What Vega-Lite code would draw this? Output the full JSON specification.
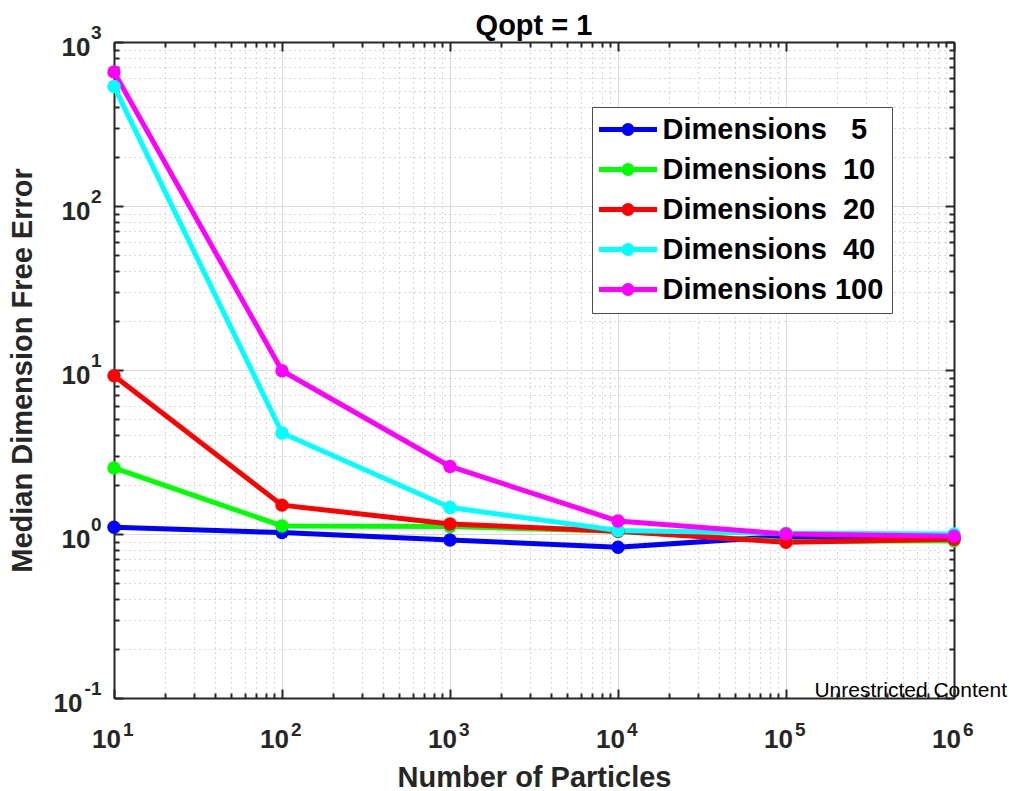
{
  "$schema": "https://vega.github.io/schema/vega-lite/v6.json",
  "width": 840,
  "height": 656,
  "autosize": {"type": "none"},
  "padding": {"left": 114, "top": 42, "right": 55, "bottom": 93},
  "background": "white",
  "config": {"font": "Liberation Sans", "view": {"stroke": null}},
  "title": {"text": "Qopt = 1", "font": "Liberation Sans", "fontSize": 29, "fontWeight": "bold", "color": "#000000", "offset": -18},
  "datasets": {
    "errors": [
      {"particles": 10, "err": 1.10, "series": "Dimensions\u00a0\u00a0\u00a05"},
      {"particles": 100, "err": 1.02, "series": "Dimensions\u00a0\u00a0\u00a05"},
      {"particles": 1000, "err": 0.92, "series": "Dimensions\u00a0\u00a0\u00a05"},
      {"particles": 10000, "err": 0.83, "series": "Dimensions\u00a0\u00a0\u00a05"},
      {"particles": 100000, "err": 0.97, "series": "Dimensions\u00a0\u00a0\u00a05"},
      {"particles": 1000000, "err": 0.95, "series": "Dimensions\u00a0\u00a0\u00a05"},
      {"particles": 10, "err": 2.53, "series": "Dimensions\u00a0\u00a010"},
      {"particles": 100, "err": 1.12, "series": "Dimensions\u00a0\u00a010"},
      {"particles": 1000, "err": 1.11, "series": "Dimensions\u00a0\u00a010"},
      {"particles": 10000, "err": 1.04, "series": "Dimensions\u00a0\u00a010"},
      {"particles": 100000, "err": 0.90, "series": "Dimensions\u00a0\u00a010"},
      {"particles": 1000000, "err": 0.91, "series": "Dimensions\u00a0\u00a010"},
      {"particles": 10, "err": 9.23, "series": "Dimensions\u00a0\u00a020"},
      {"particles": 100, "err": 1.50, "series": "Dimensions\u00a0\u00a020"},
      {"particles": 1000, "err": 1.15, "series": "Dimensions\u00a0\u00a020"},
      {"particles": 10000, "err": 1.04, "series": "Dimensions\u00a0\u00a020"},
      {"particles": 100000, "err": 0.89, "series": "Dimensions\u00a0\u00a020"},
      {"particles": 1000000, "err": 0.93, "series": "Dimensions\u00a0\u00a020"},
      {"particles": 10, "err": 536, "series": "Dimensions\u00a0\u00a040"},
      {"particles": 100, "err": 4.13, "series": "Dimensions\u00a0\u00a040"},
      {"particles": 1000, "err": 1.45, "series": "Dimensions\u00a0\u00a040"},
      {"particles": 10000, "err": 1.05, "series": "Dimensions\u00a0\u00a040"},
      {"particles": 100000, "err": 1.01, "series": "Dimensions\u00a0\u00a040"},
      {"particles": 1000000, "err": 1.00, "series": "Dimensions\u00a0\u00a040"},
      {"particles": 10, "err": 656, "series": "Dimensions\u00a0100"},
      {"particles": 100, "err": 9.9, "series": "Dimensions\u00a0100"},
      {"particles": 1000, "err": 2.58, "series": "Dimensions\u00a0100"},
      {"particles": 10000, "err": 1.20, "series": "Dimensions\u00a0100"},
      {"particles": 100000, "err": 1.00, "series": "Dimensions\u00a0100"},
      {"particles": 1000000, "err": 0.97, "series": "Dimensions\u00a0100"}
    ],
    "footnote": [
      {"particles": 1000000, "err": 0.1, "note": "Unrestricted Content"}
    ]
  },
  "resolve": {"scale": {"x": "independent", "y": "independent"}, "axis": {"x": "independent", "y": "independent"}},
  "layer": [
    {
      "encoding": {
        "x": {
          "field": "particles",
          "type": "quantitative",
          "scale": {"type": "log", "domain": [10, 1000000], "nice": false, "zero": false},
          "axis": {
            "orient": "bottom",
            "values": [10, 20, 30, 40, 50, 60, 70, 80, 90, 100, 200, 300, 400, 500, 600, 700, 800, 900, 1000, 2000, 3000, 4000, 5000, 6000, 7000, 8000, 9000, 10000, 20000, 30000, 40000, 50000, 60000, 70000, 80000, 90000, 100000, 200000, 300000, 400000, 500000, 600000, 700000, 800000, 900000, 1000000],
            "labelExpr": "abs(log(datum.value)/LN10 - round(log(datum.value)/LN10)) < 0.01 ? '10' : ''",
            "labelFont": "Liberation Sans",
            "labelFontSize": 26,
            "labelFontWeight": "bold",
            "labelColor": "#262626",
            "labelBaseline": "top",
            "labelPadding": 37,
            "labelOffset": -8,
            "labelFlush": false,
            "labelOverlap": false,
            "labelBound": false,
            "tickSize": {"condition": {"test": "abs(log(datum.value)/LN10 - round(log(datum.value)/LN10)) < 0.01", "value": -9}, "value": -5},
            "tickColor": "#262626",
            "tickWidth": 2,
            "domainColor": "#262626",
            "domainWidth": 2,
            "grid": true,
            "gridColor": {"condition": {"test": "abs(log(datum.value)/LN10 - round(log(datum.value)/LN10)) < 0.01", "value": "#dadada"}, "value": "#b0b0b0"},
            "gridDash": {"condition": {"test": "abs(log(datum.value)/LN10 - round(log(datum.value)/LN10)) < 0.01", "value": []}, "value": [1, 4]},
            "gridWidth": 1,
            "title": "Number of Particles",
            "titleFont": "Liberation Sans",
            "titleFontSize": 29,
            "titleFontWeight": "bold",
            "titleColor": "#262626",
            "titlePadding": 7
          }
        },
        "y": {
          "field": "err",
          "type": "quantitative",
          "scale": {"type": "log", "domain": [0.1, 1000], "nice": false, "zero": false},
          "axis": {
            "orient": "left",
            "values": [0.1, 0.2, 0.3, 0.4, 0.5, 0.6, 0.7, 0.8, 0.9, 1, 2, 3, 4, 5, 6, 7, 8, 9, 10, 20, 30, 40, 50, 60, 70, 80, 90, 100, 200, 300, 400, 500, 600, 700, 800, 900, 1000],
            "labelExpr": "abs(log(datum.value)/LN10 - round(log(datum.value)/LN10)) < 0.01 ? '10' : ''",
            "labelFont": "Liberation Sans",
            "labelFontSize": 26,
            "labelFontWeight": "bold",
            "labelColor": "#262626",
            "labelPadding": {"condition": {"test": "datum.value < 0.5", "value": 41}, "value": 33},
            "labelOffset": 5,
            "labelFlush": false,
            "labelOverlap": false,
            "labelBound": false,
            "tickSize": {"condition": {"test": "abs(log(datum.value)/LN10 - round(log(datum.value)/LN10)) < 0.01", "value": -9}, "value": -5},
            "tickColor": "#262626",
            "tickWidth": 2,
            "domainColor": "#262626",
            "domainWidth": 2,
            "grid": true,
            "gridColor": {"condition": {"test": "abs(log(datum.value)/LN10 - round(log(datum.value)/LN10)) < 0.01", "value": "#dadada"}, "value": "#b0b0b0"},
            "gridDash": {"condition": {"test": "abs(log(datum.value)/LN10 - round(log(datum.value)/LN10)) < 0.01", "value": []}, "value": [1, 4]},
            "gridWidth": 1,
            "title": "Median Dimension Free Error",
            "titleFont": "Liberation Sans",
            "titleFontSize": 29,
            "titleFontWeight": "bold",
            "titleColor": "#262626",
            "titlePadding": 16
          }
        }
      },
      "layer": [
        {
          "data": {"name": "errors"},
          "mark": {"type": "line", "strokeWidth": 5, "strokeJoin": "round"},
          "encoding": {
            "color": {
              "field": "series",
              "type": "nominal",
              "scale": {
                "domain": ["Dimensions\u00a0\u00a0\u00a05", "Dimensions\u00a0\u00a010", "Dimensions\u00a0\u00a020", "Dimensions\u00a0\u00a040", "Dimensions\u00a0100"],
                "range": ["#0000ff", "#00ff00", "#ff0000", "#00ffff", "#ff00ff"]
              },
              "legend": {
                "title": null,
                "orient": "none",
                "legendX": 478,
                "legendY": 65,
                "symbolType": "M-3.867,0L3.867,0M0.533,0A0.533,0.533,0,1,1,-0.533,0A0.533,0.533,0,1,1,0.533,0Z",
                "symbolSize": 225,
                "symbolStrokeWidth": 5,
                "symbolOffset": 13.5,
                "labelFont": "Liberation Sans",
                "labelFontSize": 29,
                "labelFontWeight": "bold",
                "labelColor": "#000000",
                "labelOffset": 20,
                "labelLimit": 400,
                "rowPadding": 10,
                "padding": 8,
                "strokeColor": "#4d4d4d",
                "fillColor": "#ffffff",
                "cornerRadius": 0,
                "encode": {
                  "symbols": {
                    "update": {
                      "fill": {"scale": "color", "field": "value"},
                      "stroke": {"scale": "color", "field": "value"},
                      "fillOpacity": {"value": 1},
                      "strokeOpacity": {"value": 1},
                      "opacity": {"value": 1}
                    }
                  }
                }
              }
            },
            "order": {"field": "particles", "type": "quantitative"}
          }
        },
        {
          "data": {"name": "errors"},
          "mark": {"type": "point", "filled": true, "size": 180, "opacity": 1, "shape": "circle"},
          "encoding": {
            "color": {"field": "series", "type": "nominal", "legend": null}
          }
        },
        {
          "data": {"name": "footnote"},
          "mark": {"type": "text", "align": "right", "baseline": "alphabetic", "dx": 53, "dy": -1, "font": "Liberation Sans", "fontSize": 21, "color": "#000000"},
          "encoding": {
            "text": {"field": "note", "type": "nominal"}
          }
        }
      ]
    },
    {
      "data": {"name": "errors"},
      "mark": {"type": "point", "opacity": 0},
      "encoding": {
        "x": {
          "field": "particles",
          "type": "quantitative",
          "scale": {"type": "log", "domain": [10, 1000000], "nice": false, "zero": false},
          "axis": {
            "orient": "top",
            "values": [10, 20, 30, 40, 50, 60, 70, 80, 90, 100, 200, 300, 400, 500, 600, 700, 800, 900, 1000, 2000, 3000, 4000, 5000, 6000, 7000, 8000, 9000, 10000, 20000, 30000, 40000, 50000, 60000, 70000, 80000, 90000, 100000, 200000, 300000, 400000, 500000, 600000, 700000, 800000, 900000, 1000000],
            "labels": false,
            "grid": false,
            "title": null,
            "tickSize": {"condition": {"test": "abs(log(datum.value)/LN10 - round(log(datum.value)/LN10)) < 0.01", "value": -9}, "value": -5},
            "tickColor": "#262626",
            "tickWidth": 2,
            "domainColor": "#262626",
            "domainWidth": 2
          }
        },
        "y": {
          "field": "err",
          "type": "quantitative",
          "scale": {"type": "log", "domain": [0.1, 1000], "nice": false, "zero": false},
          "axis": {
            "orient": "right",
            "values": [0.1, 0.2, 0.3, 0.4, 0.5, 0.6, 0.7, 0.8, 0.9, 1, 2, 3, 4, 5, 6, 7, 8, 9, 10, 20, 30, 40, 50, 60, 70, 80, 90, 100, 200, 300, 400, 500, 600, 700, 800, 900, 1000],
            "labels": false,
            "grid": false,
            "title": null,
            "tickSize": {"condition": {"test": "abs(log(datum.value)/LN10 - round(log(datum.value)/LN10)) < 0.01", "value": -9}, "value": -5},
            "tickColor": "#262626",
            "tickWidth": 2,
            "domainColor": "#262626",
            "domainWidth": 2
          }
        }
      }
    },
    {
      "data": {"name": "errors"},
      "mark": {"type": "point", "opacity": 0},
      "encoding": {
        "x": {
          "field": "particles",
          "type": "quantitative",
          "scale": {"type": "log", "domain": [10, 1000000], "nice": false, "zero": false},
          "axis": {
            "orient": "bottom",
            "values": [10, 100, 1000, 10000, 100000, 1000000],
            "labelExpr": "'' + round(log(datum.value)/LN10)",
            "labelFont": "Liberation Sans",
            "labelFontSize": 19,
            "labelFontWeight": "bold",
            "labelColor": "#262626",
            "labelAlign": "left",
            "labelBaseline": "top",
            "labelOffset": 8.5,
            "labelPadding": 22,
            "labelFlush": false,
            "labelOverlap": false,
            "labelBound": false,
            "ticks": false,
            "tickSize": 0,
            "domain": false,
            "grid": false,
            "title": null
          }
        },
        "y": {
          "field": "err",
          "type": "quantitative",
          "scale": {"type": "log", "domain": [0.1, 1000], "nice": false, "zero": false},
          "axis": {
            "orient": "left",
            "values": [0.1, 1, 10, 100, 1000],
            "labelExpr": "'' + round(log(datum.value)/LN10)",
            "labelFont": "Liberation Sans",
            "labelFontSize": 19,
            "labelFontWeight": "bold",
            "labelColor": "#262626",
            "labelAlign": "right",
            "labelOffset": -10,
            "labelPadding": 13,
            "labelFlush": false,
            "labelOverlap": false,
            "labelBound": false,
            "ticks": false,
            "tickSize": 0,
            "domain": false,
            "grid": false,
            "title": null
          }
        }
      }
    }
  ]
}
